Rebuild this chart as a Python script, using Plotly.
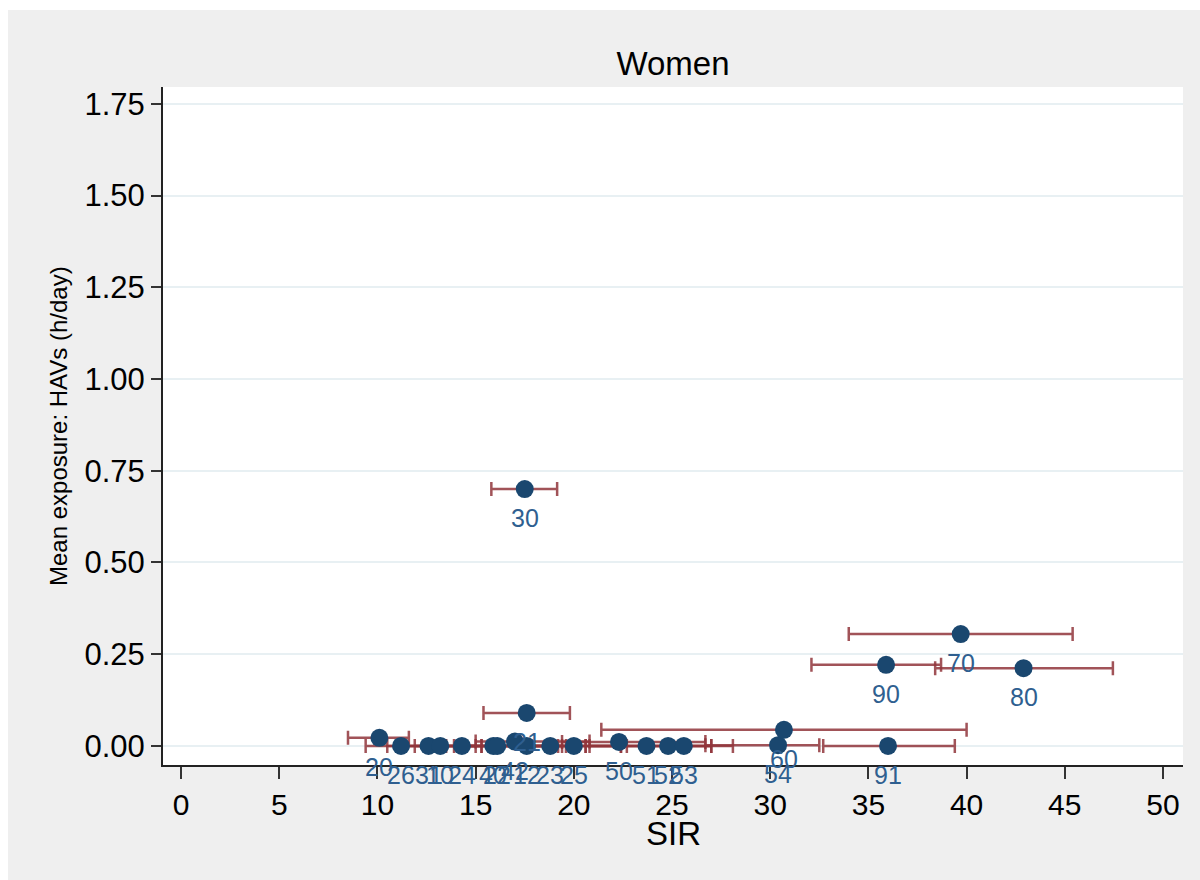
import plotly.graph_objects as go

# Occupation codes, standardised incidence ratios (SIR) with 95% CI,
# and mean daily exposure to hand-arm vibrations (HAVs) for women
labels = ["20", "26", "31", "10", "24", "40", "22", "42", "12", "23", "25",
          "50", "51", "52", "53", "54", "91", "21", "30", "60", "70", "90", "80"]
sir = [10.1, 11.2, 12.6, 13.2, 14.3, 15.9, 16.1, 17.0, 17.6, 18.8, 20.0,
       22.3, 23.7, 24.8, 25.6, 30.4, 36.0, 17.6, 17.5, 30.7, 39.7, 35.9, 42.9]
sir_lo = [8.5, 9.4, 10.5, 11.0, 11.9, 13.5, 13.9, 15.0, 15.3, 15.7, 17.5,
          19.4, 20.6, 20.8, 22.4, 26.7, 32.7, 15.4, 15.8, 21.4, 34.0, 32.1, 38.4]
sir_hi = [11.6, 15.0, 15.3, 15.7, 19.4, 19.6, 20.6, 20.8, 19.2, 22.4, 22.7,
          26.7, 27.0, 28.1, 27.0, 32.5, 39.4, 19.8, 19.15, 40.0, 45.4, 38.7, 47.45]
exposure = [0.022, 0.0, 0.0, 0.0, 0.0, 0.0, 0.0, 0.012, 0.0, 0.0, 0.0,
            0.011, 0.0, 0.0, 0.0, 0.002, 0.0, 0.09, 0.70, 0.044, 0.305, 0.221, 0.212]

x_ticks = [0, 5, 10, 15, 20, 25, 30, 35, 40, 45, 50]
y_ticks = [0.0, 0.25, 0.5, 0.75, 1.0, 1.25, 1.5, 1.75]

FONT = "Liberation Sans, Arial, sans-serif"

err_plus = [h - s for h, s in zip(sir_hi, sir)]
err_minus = [s - l for s, l in zip(sir, sir_lo)]

fig = go.Figure()
fig.add_trace(go.Scatter(
    x=sir, y=exposure, mode="markers",
    marker=dict(size=18, color="#1a476f"),
    error_x=dict(type="data", symmetric=False, array=err_plus,
                 arrayminus=err_minus, color="rgba(144,53,59,0.85)",
                 thickness=2.5, width=7),
    showlegend=False, cliponaxis=False,
))

# marker labels placed just below each point
label_annotations = [
    dict(x=x, y=y, xref="x", yref="y", text=t, showarrow=False,
         xanchor="center", yanchor="middle", yshift=-29,
         font=dict(size=25, family=FONT, color="#2f5f90"))
    for x, y, t in zip(sir, exposure, labels)
]

fig.update_layout(
    width=1200, height=880,
    margin=dict(l=163, r=17, t=87, b=115),
    paper_bgcolor="#efefef", plot_bgcolor="white",
    font=dict(family=FONT, color="black"),
    title=dict(text="Women", x=0.5, xref="paper", y=1 - 63 / 880,
               yref="container", xanchor="center", yanchor="middle",
               font=dict(size=33, family=FONT, color="black")),
    xaxis=dict(range=[-0.92, 51.02], tickvals=x_ticks,
               ticktext=[str(v) for v in x_ticks],
               showgrid=False, zeroline=False,
               showline=True, linecolor="#222", linewidth=2,
               ticks="outside", ticklen=12, tickwidth=2, tickcolor="#333",
               tickfont=dict(size=30, family=FONT, color="black")),
    yaxis=dict(range=[-0.052, 1.796], tickvals=y_ticks,
               ticktext=[f"{v:.2f}" for v in y_ticks],
               showgrid=True, gridcolor="#e8f0f3", gridwidth=2,
               zeroline=False,
               showline=True, linecolor="#222", linewidth=2,
               ticks="outside", ticklen=10, tickwidth=2, tickcolor="#333",
               tickfont=dict(size=31, family=FONT, color="black")),
    shapes=[
        # white margin strips around the grey panel
        dict(type="rect", xref="paper", yref="paper", x0=-0.3, x1=1.2,
             y0=1 + 77 / 678, y1=1.3, fillcolor="white", line_width=0,
             layer="below"),
        dict(type="rect", xref="paper", yref="paper", x0=-0.3,
             x1=-155 / 1020, y0=-0.3, y1=1.3, fillcolor="white",
             line_width=0, layer="below"),
    ],
    annotations=label_annotations + [
        dict(text="Mean exposure: HAVs (h/day)", xref="paper", yref="paper",
             x=-105 / 1020, y=0.5, xanchor="center", yanchor="middle",
             textangle=-90, showarrow=False,
             font=dict(size=24, family=FONT, color="black")),
        dict(text="SIR", xref="paper", yref="paper", x=0.5, y=-68 / 678,
             xanchor="center", yanchor="middle", showarrow=False,
             font=dict(size=33, family=FONT, color="black")),
    ],
)

fig.write_html("out.html")
